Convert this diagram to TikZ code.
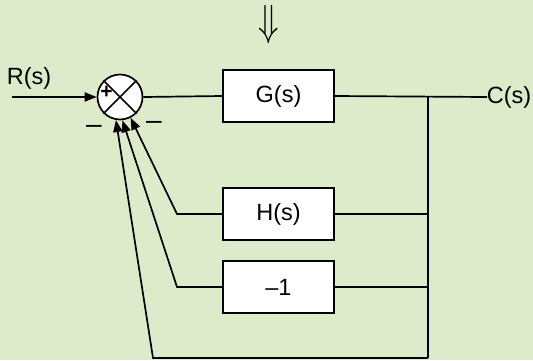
\documentclass[tikz,border=0pt]{standalone}
\usepackage{fontspec}
\setmainfont{Liberation Sans}
\usetikzlibrary{arrows.meta}
\definecolor{panel}{RGB}{222,235,203}
\begin{document}
\begin{tikzpicture}[x=1pt,y=-1pt,
  line width=1.7pt,
  lbl/.style={font=\fontsize{23.5}{26}\selectfont, inner sep=0pt},
  block/.style={draw, fill=white, minimum width=111pt, minimum height=52pt,
    font=\fontsize{23.5}{26}\selectfont, inner sep=0pt},
  sumnode/.style={draw, circle, fill=white, minimum size=45pt, inner sep=0pt},
  tip/.style={-{Triangle[length=12pt,width=9pt]}}]
  \fill[panel] (0,0) rectangle (533,360);
  \useasboundingbox (0,0) rectangle (533,360);

  % summing junction
  \node[sumnode] (sum) at (120,97) {};
  \draw[line width=1.5pt] (sum.45) -- (sum.-135) (sum.135) -- (sum.-45);
  \node[lbl, font=\fontsize{21}{21}\selectfont] (plus) at (106.5,92) {\textbf{+}};

  % blocks
  \node[block] (G) at (278.5,96) {G(s)};
  \node[block] (H) at (278.5,214) {H(s)};
  \node[block] (M) at (278.5,287) {–1};

  % labels
  \node[lbl, transform shape, xscale=1.35, yscale=1.75] (arr) at (269,25) {\fontsize{36}{36}\selectfont$\Downarrow$};
  \node[lbl] (R) at (29,78) {R(s)};
  \node[lbl] (C) at (509,97) {C(s)};
  \node[lbl, font=\fontsize{28}{28}\selectfont] (m1) at (94,129) {–};
  \node[lbl, font=\fontsize{28}{28}\selectfont] (m2) at (154,125) {–};

  % points on the paths
  \coordinate (in) at (12,97);
  \coordinate (out) at (487,97);
  \coordinate (br) at (428,97);
  \coordinate (brB) at (428,358);
  \coordinate (hL) at (177,214);
  \coordinate (mL) at (177,287);
  \coordinate (bL) at (153,358);

  % forward path
  \draw[tip] (in) -- (sum.west);
  \draw (sum.east) -- (G.west);
  \draw (G.east) -- (out);
  \draw (br) -- (brB);

  % feedback paths
  \draw (br |- H.east) -- (H.east);
  \draw (br |- M.east) -- (M.east);
  \draw[tip] (H.west) -- (hL) -- (sum.-63);
  \draw[tip] (M.west) -- (mL) -- (sum.-84);
  \draw[tip] (brB) -- (bL) -- (sum.-100);
\end{tikzpicture}
\end{document}
